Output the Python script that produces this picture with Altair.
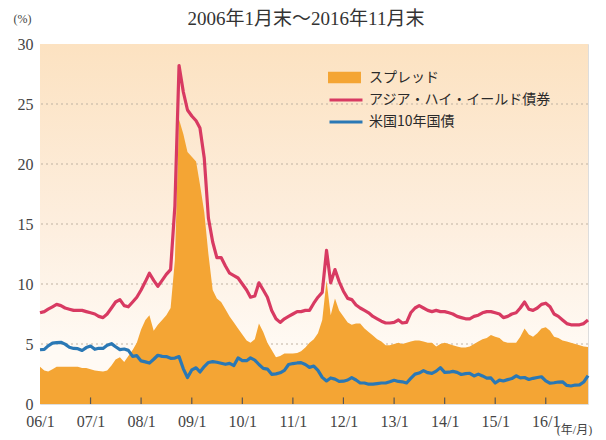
import altair as alt
import pandas as pd

# ---- data (monthly, Jan 2006 .. Nov 2016) ----
months = pd.date_range("2006-01-01", "2016-11-01", freq="MS").strftime("%Y-%m-%d").tolist()

asia_hy = [
    7.6, 7.7, 7.9, 8.1, 8.3, 8.2, 8.0, 7.9, 7.8, 7.8, 7.8, 7.7,
    7.6, 7.5, 7.3, 7.2, 7.5, 8.0, 8.5, 8.7, 8.2, 8.1, 8.5, 8.9,
    9.5, 10.2, 10.9, 10.3, 9.8, 10.3, 10.8, 11.2, 16.5, 28.2, 26.0, 24.5,
    24.0, 23.6, 23.0, 20.5, 15.5, 13.5, 12.2, 12.2, 11.5, 10.9, 10.7, 10.5,
    10.0, 9.5, 8.9, 9.0, 10.1, 9.5, 8.9, 7.8, 7.1, 6.8, 7.1, 7.3,
    7.5, 7.7, 7.7, 7.8, 7.8, 8.4, 8.9, 9.3, 12.8, 10.1, 11.2, 10.2,
    9.4, 8.8, 8.7, 8.25, 8.0, 7.8, 7.6, 7.3, 7.1, 6.9, 6.75, 6.75,
    6.8, 7.0, 6.75, 6.8, 7.6, 8.0, 8.2, 8.0, 7.8, 7.7, 7.8, 7.7,
    7.7, 7.6, 7.5, 7.3, 7.2, 7.1, 7.1, 7.3, 7.4, 7.6, 7.7, 7.7,
    7.6, 7.5, 7.2, 7.3, 7.5, 7.6, 8.0, 8.5, 7.9, 7.8, 8.0, 8.3,
    8.4, 8.1, 7.5, 7.3, 7.0, 6.7, 6.6, 6.6, 6.6, 6.7, 7.0,
]

ust10 = [
    4.52, 4.55, 4.85, 5.07, 5.12, 5.14, 4.99, 4.73, 4.63, 4.61, 4.46, 4.70,
    4.83, 4.56, 4.64, 4.63, 4.89, 5.03, 4.77, 4.53, 4.58, 4.47, 3.97, 4.03,
    3.59, 3.51, 3.41, 3.73, 4.06, 3.97, 3.95, 3.81, 3.83, 3.95, 2.93, 2.21,
    2.84, 3.02, 2.67, 3.12, 3.46, 3.53, 3.48, 3.40, 3.31, 3.39, 3.20, 3.84,
    3.61, 3.61, 3.84, 3.66, 3.29, 2.97, 2.91, 2.47, 2.51, 2.60, 2.80, 3.29,
    3.37, 3.42, 3.45, 3.29, 3.05, 3.16, 2.80, 2.22, 1.92, 2.17, 2.07, 1.88,
    1.90, 2.00, 2.20, 2.00, 1.75, 1.75, 1.65, 1.65, 1.70, 1.75, 1.75, 1.85,
    1.98, 1.88, 1.85, 1.75, 2.13, 2.49, 2.58, 2.78, 2.61, 2.55, 2.74, 3.03,
    2.64, 2.65, 2.72, 2.64, 2.46, 2.53, 2.56, 2.34, 2.49, 2.34, 2.16, 2.17,
    1.75, 1.99, 1.92, 2.03, 2.12, 2.35, 2.18, 2.21, 2.04, 2.14, 2.21, 2.27,
    1.92, 1.73, 1.77, 1.83, 1.85, 1.55, 1.50, 1.58, 1.59, 1.83, 2.37,
]

spread = [
    3.1, 2.8, 2.7, 2.9, 3.1, 3.1, 3.1, 3.1, 3.1, 3.1, 3.0, 3.0,
    2.9, 2.8, 2.75, 2.7, 2.8, 3.2, 3.7, 3.9, 3.5, 4.0, 4.5, 5.1,
    6.2, 7.0, 7.4, 6.1, 6.6, 7.0, 7.4, 8.0, 12.0, 23.7, 22.5, 21.0,
    20.6, 20.2, 18.3, 16.0, 12.5, 9.5, 8.8, 8.5, 7.9, 7.3, 6.8, 6.3,
    5.8, 5.3, 5.1, 5.4, 6.7, 6.0, 5.1, 4.5, 3.9, 4.0, 4.2, 4.2,
    4.2, 4.25, 4.4, 4.7, 5.1, 5.4, 5.9, 7.0, 10.3, 7.4, 8.8, 7.8,
    7.3, 6.8, 6.6, 6.7, 6.7, 6.3, 6.0, 5.7, 5.4, 5.2, 4.9, 4.9,
    5.0, 5.1, 5.0, 5.1, 5.2, 5.3, 5.3, 5.2, 5.1, 5.1, 4.8, 5.0,
    5.1, 5.0, 4.9, 4.8, 4.7, 4.7, 4.8, 5.0, 5.2, 5.4, 5.5, 5.75,
    5.6, 5.5, 5.2, 5.1, 5.1, 5.1, 5.6, 6.3, 5.8, 5.6, 5.9, 6.3,
    6.4, 6.1, 5.6, 5.5, 5.3, 5.2, 5.1, 5.0, 4.9, 4.8, 4.75,
]

series_names = ["スプレッド", "アジア・ハイ・イールド債券", "米国10年国債"]
tick_years = list(range(2006, 2017))
y_ticks = [0, 5, 10, 15, 20, 25, 30]
grid_values = [5, 10, 15, 20, 25]
title_text = "2006年1月末～2016年11月末"

df = pd.DataFrame({
    "date": months,
    series_names[0]: spread,
    series_names[1]: asia_hy,
    series_names[2]: ust10,
})

SERIF = "'Liberation Serif', 'DejaVu Serif', 'Noto Sans CJK JP', serif"
CJK = "'Noto Sans CJK JP', sans-serif"
ORANGE = "#f4a534"
RED = "#d83a62"
BLUE = "#2a78b5"

W, H = 548, 360
xdomain = [alt.DateTime(year=2006, month=1, date=1), alt.DateTime(year=2016, month=11, date=1)]
xscale = alt.Scale(domain=xdomain)
yscale = alt.Scale(domain=[0, 30], nice=False)

xaxis = alt.Axis(
    values=[alt.DateTime(year=y, month=1, date=1) for y in tick_years],
    format="%y/%-m", ticks=False, domain=False, grid=False, labelAngle=0,
    labelFont=SERIF, labelFontSize=16, labelColor="#444", labelPadding=9,
    labelFlush=False,
    title="(年/月)", titleFont=SERIF, titleFontSize=12, titleFontWeight="normal",
    titleColor="#444", titleX=534, titleY=25, titleAlign="center", titleBaseline="middle",
)
yaxis = alt.Axis(
    values=y_ticks, ticks=False, domain=False, grid=False,
    labelFont=SERIF, labelFontSize=16, labelColor="#444", labelPadding=7,
    title="(%)", titleFont=SERIF, titleFontSize=12, titleFontWeight="normal",
    titleColor="#444", titleAngle=0, titleX=-18, titleY=-26,
    titleAlign="center", titleBaseline="middle",
)

X = alt.X("date:T", scale=xscale, axis=xaxis)

background = alt.Chart(alt.Data(values=[{}])).mark_rect(
    color=alt.LinearGradient(
        gradient="linear",
        stops=[
            alt.GradientStop(color="#fce2c1", offset=0),
            alt.GradientStop(color="#fdeede", offset=0.5),
            alt.GradientStop(color="#fffaf4", offset=0.85),
            alt.GradientStop(color="#fffaf4", offset=1),
        ],
        x1=0, x2=0, y1=0, y2=1,
    )
).encode(x=alt.value(0), x2=alt.value(W), y=alt.value(0), y2=alt.value(H))

grid = alt.Chart(alt.Data(values=[{"v": v} for v in grid_values])).mark_rule(
    color="#bfb2a2", strokeDash=[2, 3], strokeWidth=1
).encode(y=alt.Y("v:Q", scale=yscale, axis=yaxis))

area = alt.Chart(df).transform_calculate(s="'スプレッド'").mark_area(
    interpolate="linear"
).encode(
    x=X,
    y=alt.Y(f"{series_names[0]}:Q", scale=yscale, axis=yaxis),
    fill=alt.Fill(
        "s:N",
        scale=alt.Scale(domain=[series_names[0]], range=[ORANGE]),
        legend=alt.Legend(
            title=None, orient="none", legendX=296, legendY=25, padding=0,
            symbolType="M-2,-0.7H2V0.7H-2Z", symbolSize=272, symbolStrokeWidth=0,
            symbolOpacity=1, labelFont=CJK, labelFontSize=14, labelColor="#2a2a2a",
            labelOffset=16, labelLimit=400,
        ),
    ),
)

ticks = alt.Chart(alt.Data(values=[
    {"d": f"{y}-01-01", "lo": 0, "hi": 0.55} for y in tick_years[1:]
])).mark_rule(color="#555", strokeWidth=1.2).encode(
    x=alt.X("d:T", scale=xscale, axis=xaxis),
    y=alt.Y("lo:Q", scale=yscale, axis=yaxis),
    y2="hi:Q",
)

lines = alt.Chart(df).transform_fold(
    series_names[1:], as_=["series", "value"]
).mark_line(strokeWidth=3.2, strokeJoin="round").encode(
    x=X,
    y=alt.Y("value:Q", scale=yscale, axis=yaxis),
    stroke=alt.Stroke(
        "series:N",
        scale=alt.Scale(domain=series_names[1:], range=[RED, BLUE]),
        legend=alt.Legend(
            title=None, orient="none", legendX=296, legendY=46, padding=0,
            symbolType="M-2,0H2", symbolSize=272, symbolStrokeWidth=3,
            labelFont=CJK, labelFontSize=14, labelColor="#2a2a2a",
            labelOffset=13, rowPadding=5, labelLimit=400,
        ),
    ),
)

chart = alt.layer(background, grid, area, ticks, lines).properties(
    width=W, height=H,
    title=alt.Title(title_text, font=SERIF, fontSize=19, fontWeight="normal",
                    color="#333", anchor="middle", offset=-17, dx=-8),
    padding={"left": 32, "top": 36, "right": 10, "bottom": 32},
    autosize=alt.AutoSizeParams(type="none"),
).configure_view(stroke="#555", strokeWidth=1.5).configure(background="white")

chart.save("out.html", embed_options={"renderer": "svg", "actions": False})
